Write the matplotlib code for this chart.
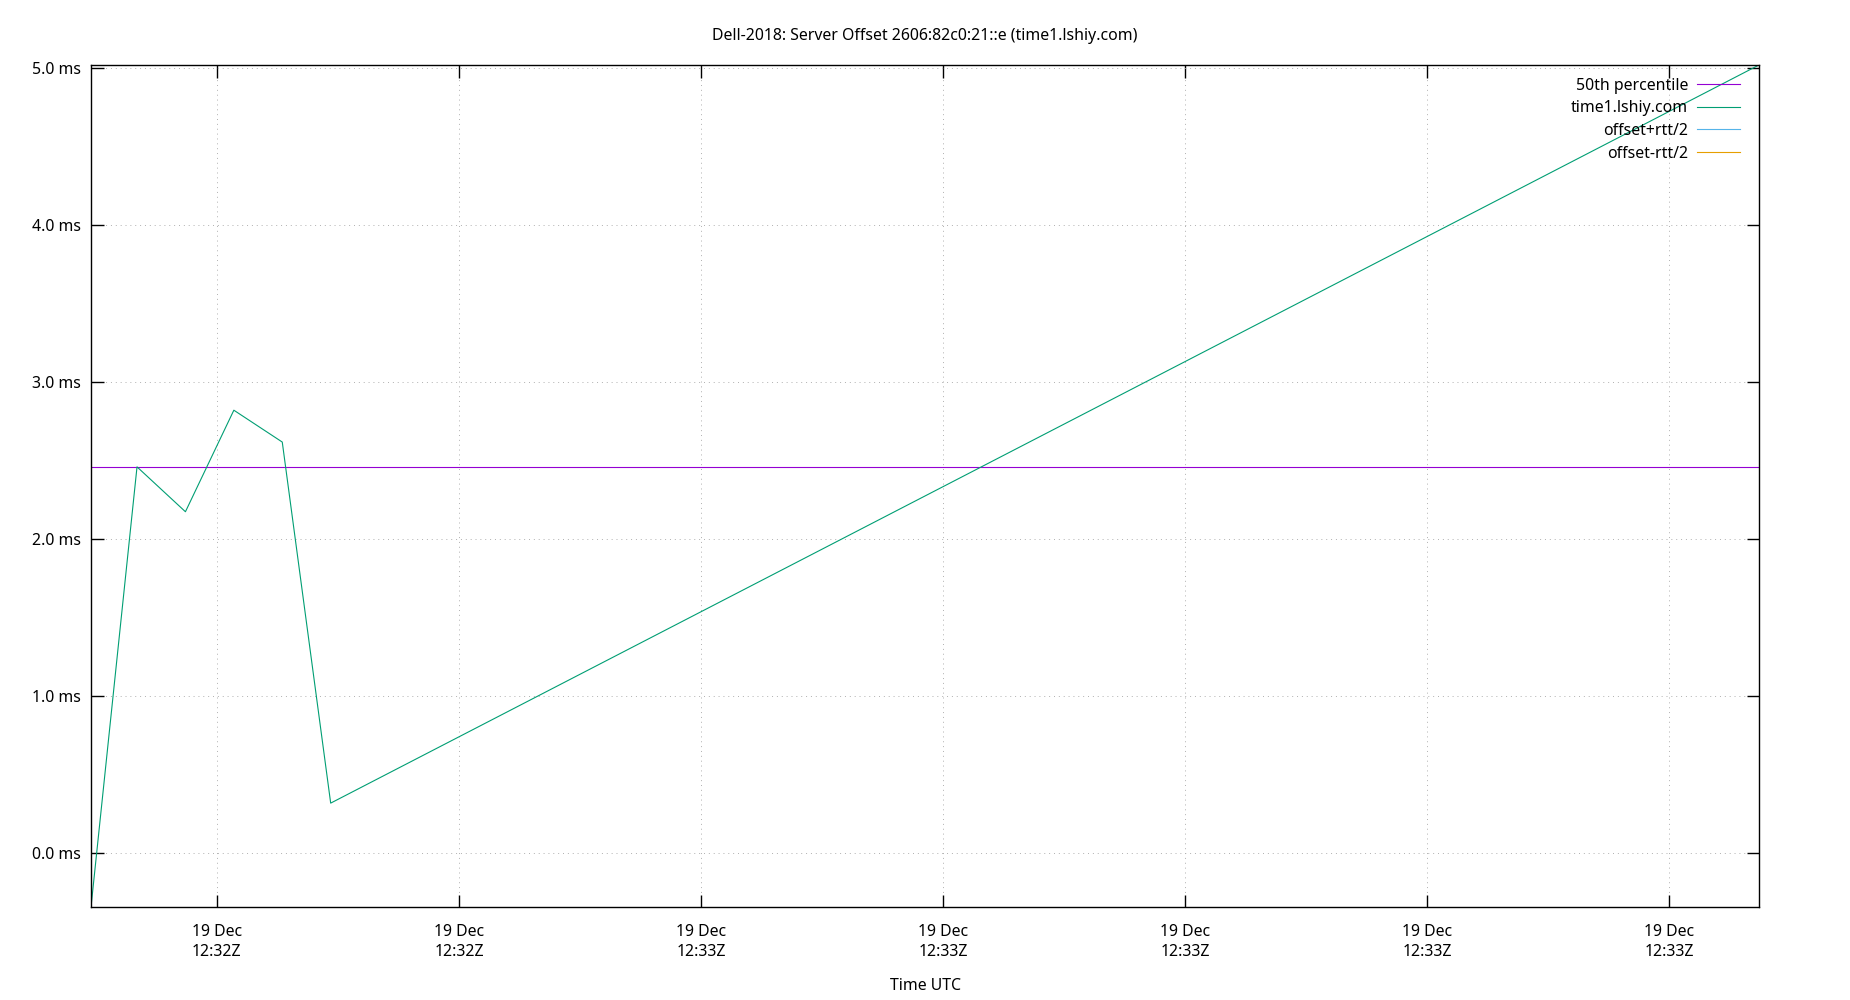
import matplotlib
matplotlib.use('Agg')
import matplotlib.pyplot as plt
import matplotlib.dates as mdates
from matplotlib.ticker import FuncFormatter, MultipleLocator
from datetime import datetime

plt.rcParams['font.family'] = ['Noto Sans', 'DejaVu Sans']

# Server offset samples (UTC time, offset in ms)
times = ['2018-12-19 12:32:34.8', '2018-12-19 12:32:36.7', '2018-12-19 12:32:38.7',
         '2018-12-19 12:32:40.7', '2018-12-19 12:32:42.7', '2018-12-19 12:32:44.7',
         '2018-12-19 12:33:43.7']
offset_ms = [-0.346, 2.459, 2.173, 2.82, 2.617, 0.316, 5.02]
median_ms = 2.459

series_names = ['50th percentile', 'time1.lshiy.com', 'offset+rtt/2', 'offset-rtt/2']
series_colors = ['#9400d3', '#009e73', '#56b4e9', '#e69f00']

x = [datetime.strptime(t, '%Y-%m-%d %H:%M:%S.%f') for t in times]

fs = 11.4

fig = plt.figure(figsize=(18.5, 10), dpi=100)
ax = fig.add_axes([0.0492, 0.093, 0.9016, 0.842])

ax.plot([x[0], x[-1]], [median_ms, median_ms], color=series_colors[0], lw=0.8,
        label=series_names[0])
ax.plot(x, offset_ms, color=series_colors[1], lw=0.8, label=series_names[1])
ax.plot([], [], color=series_colors[2], lw=0.8, label=series_names[2])
ax.plot([], [], color=series_colors[3], lw=0.8, label=series_names[3])

ax.set_xlim(x[0], x[-1])
ax.set_ylim(min(offset_ms), max(offset_ms))

ax.xaxis.set_major_locator(mdates.SecondLocator(bysecond=range(0, 60, 10)))
ax.xaxis.set_major_formatter(mdates.DateFormatter('%d %b\n%H:%MZ'))
ax.yaxis.set_major_locator(MultipleLocator(1.0))
ax.yaxis.set_major_formatter(FuncFormatter(lambda v, p: f'{v:.1f} ms'))

ax.tick_params(direction='in', length=9, width=1, labelsize=fs,
               top=True, right=True)
ax.tick_params(axis='x', pad=12)
ax.tick_params(axis='y', pad=7)
for lbl in ax.get_xticklabels():
    lbl.set_linespacing(1.37)
for s in ax.spines.values():
    s.set_linewidth(1)

ax.grid(True, color='#b0b0b0', linestyle=(0, (1, 4)), linewidth=0.7)

ax.set_title('Dell-2018: Server Offset 2606:82c0:21::e (time1.lshiy.com)',
             fontsize=fs, pad=18)
ax.set_xlabel('Time UTC', fontsize=fs, labelpad=13)

ax.legend(loc='upper right', bbox_to_anchor=(0.9964, 1.0), frameon=False,
          markerfirst=False, fontsize=fs, handlelength=2.75, handletextpad=0.55,
          labelspacing=0.42, borderaxespad=0.4)

plt.savefig('out.png')
